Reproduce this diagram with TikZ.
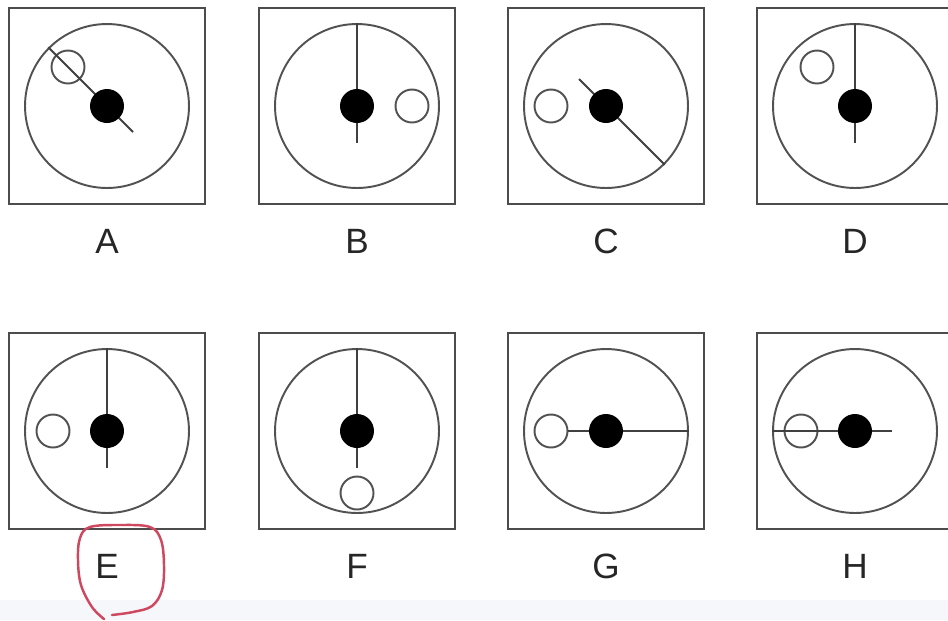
\documentclass[tikz,border=0pt]{standalone}
\usepackage{fontspec}
\setmainfont{Liberation Sans}
\usetikzlibrary{calc}
\definecolor{markred}{RGB}{206,72,96}
\definecolor{stripgray}{RGB}{246,247,251}

\begin{document}
\begin{tikzpicture}[
  x=0.02cm, y=-0.02cm,
  panel/.style={draw=black!70, line width=1.3pt, minimum size=3.92cm, inner sep=0pt},
  ring/.style={circle, draw=black!68, line width=1.1pt, minimum size=3.28cm, inner sep=0pt},
  dot/.style={circle, fill=black, minimum size=0.68cm, inner sep=0pt},
  hole/.style={circle, draw=black!68, line width=1.1pt, minimum size=0.66cm, inner sep=0pt},
  rod/.style={draw=black!75, line width=1.1pt},
  lbl/.style={text=black!85, font=\fontsize{20}{24}\selectfont},
  scribble/.style={draw=markred, line width=1.4pt, line cap=round, line join=round}]
\useasboundingbox (0,0) rectangle (948,620);
\fill[white] (0,0) rectangle (948,620);
\fill[stripgray] (0,600) rectangle (948,620);
% panels, rings and letters
\foreach \n/\x/\y in {A/107/106,B/357/106,C/606/106,D/855/106,E/107/431,F/357/431,G/606/431,H/855/431} {
  \node[panel] (box\n) at (\x,\y) {};
  \node[ring] (ring\n) at (\x,\y) {};
  \node[lbl] (lbl\n) at (\x,\y+135) {\n};
}
% open circles
\node[hole] (holeA) at ($(ringA)+(-39,-39)$) {};
\node[hole] (holeB) at ($(ringB)+(55,0)$) {};
\node[hole] (holeC) at ($(ringC)+(-55,0)$) {};
\node[hole] (holeD) at ($(ringD)+(-38,-39)$) {};
\node[hole] (holeE) at ($(ringE)+(-54,0)$) {};
\node[hole] (holeF) at ($(ringF)+(0,62)$) {};
\node[hole] (holeG) at ($(ringG)+(-55,0)$) {};
\node[hole] (holeH) at ($(ringH)+(-54,0)$) {};
% free ends of the hands
\coordinate (tipA) at ($(ringA)+(26,26)$);
\coordinate (tipB) at ($(ringB)+(0,37)$);
\coordinate (tipC) at ($(ringC)+(-27,-27)$);
\coordinate (tipD) at ($(ringD)+(0,37)$);
\coordinate (tipE) at ($(ringE)+(0,37)$);
\coordinate (tipF) at ($(ringF)+(0,37)$);
\coordinate (tipH) at ($(ringH)+(37,0)$);
\draw[rod] (ringA.135) -- (tipA);
\draw[rod] (ringC.-45) -- (tipC);
\draw[rod] (holeG.east) -- (ringG.east);
\draw[rod] (ringH.west) -- (tipH);
\foreach \n in {B,D,E,F} \draw[rod] (ring\n.north) -- (tip\n);
% filled centres
\foreach \n in {A,B,C,D,E,F,G,H} \node[dot] (dot\n) at (ring\n) {};
% hand-drawn mark round E
\draw[scribble] plot[smooth, tension=0.6] coordinates {(104,619) (92,607) (81,585) (78,560) (80,538) (90,527) (120,525) (150,527) (161,540) (164,565) (162,590) (152,606) (133,612) (112,615)};
\end{tikzpicture}
\end{document}
